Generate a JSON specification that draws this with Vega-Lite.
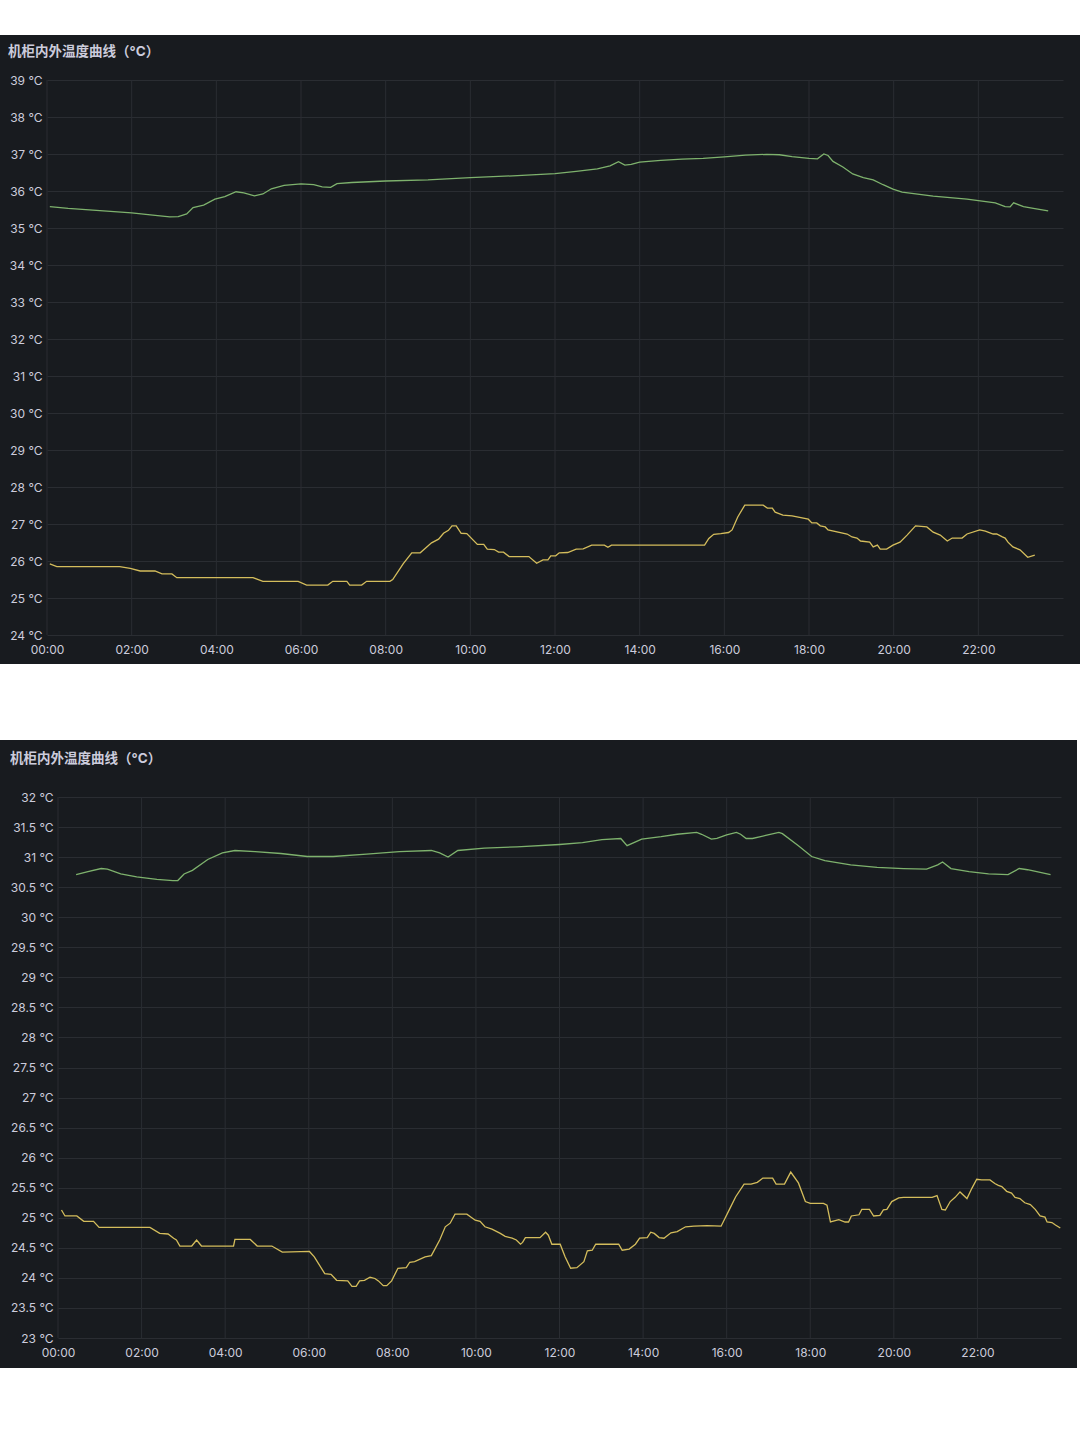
{
  "$schema": "https://vega.github.io/schema/vega-lite/v6.json",
  "background": "#ffffff",
  "padding": {"top": 35, "left": 0, "right": 0, "bottom": 72},
  "spacing": 76,
  "config": {
    "view": {"fill": "#181b1f", "stroke": null},
    "font": "Inter, 'Noto Sans CJK SC', sans-serif",
    "axis": {
      "domain": false, "ticks": false, "tickSize": 0, "grid": true,
      "gridColor": "#2a2d32", "gridWidth": 1, "title": null,
      "labelColor": "#ccccdc", "labelFontSize": 12, "labelFont": "Inter, 'Noto Sans CJK SC', sans-serif",
      "labelOverlap": false, "labelFlush": false
    },
    "axisX": {"grid": false}
  },
  "resolve": {"scale": {"x": "independent", "y": "independent", "color": "independent"}},
  "datasets": {
    "hours": [
      {"t":"2024-01-01T00:00"},{"t":"2024-01-01T02:00"},{"t":"2024-01-01T04:00"},{"t":"2024-01-01T06:00"},{"t":"2024-01-01T08:00"},{"t":"2024-01-01T10:00"},{"t":"2024-01-01T12:00"},{"t":"2024-01-01T14:00"},{"t":"2024-01-01T16:00"},{"t":"2024-01-01T18:00"},{"t":"2024-01-01T20:00"},{"t":"2024-01-01T22:00"}
    ],
    "top": [
      {"t":"2024-01-01T00:04","v":35.58,"s":"机柜内"},{"t":"2024-01-01T00:30","v":35.53,"s":"机柜内"},{"t":"2024-01-01T01:00","v":35.49,"s":"机柜内"},{"t":"2024-01-01T01:30","v":35.45,"s":"机柜内"},{"t":"2024-01-01T02:00","v":35.41,"s":"机柜内"},{"t":"2024-01-01T02:30","v":35.35,"s":"机柜内"},{"t":"2024-01-01T02:54","v":35.3,"s":"机柜内"},{"t":"2024-01-01T03:06","v":35.31,"s":"机柜内"},{"t":"2024-01-01T03:18","v":35.38,"s":"机柜内"},{"t":"2024-01-01T03:27","v":35.55,"s":"机柜内"},{"t":"2024-01-01T03:42","v":35.62,"s":"机柜内"},{"t":"2024-01-01T03:58","v":35.78,"s":"机柜内"},{"t":"2024-01-01T04:12","v":35.85,"s":"机柜内"},{"t":"2024-01-01T04:28","v":35.98,"s":"机柜内"},{"t":"2024-01-01T04:39","v":35.95,"s":"机柜内"},{"t":"2024-01-01T04:54","v":35.87,"s":"机柜内"},{"t":"2024-01-01T05:06","v":35.92,"s":"机柜内"},{"t":"2024-01-01T05:18","v":36.06,"s":"机柜内"},{"t":"2024-01-01T05:36","v":36.15,"s":"机柜内"},{"t":"2024-01-01T06:00","v":36.19,"s":"机柜内"},{"t":"2024-01-01T06:18","v":36.17,"s":"机柜内"},{"t":"2024-01-01T06:30","v":36.11,"s":"机柜内"},{"t":"2024-01-01T06:42","v":36.1,"s":"机柜内"},{"t":"2024-01-01T06:51","v":36.2,"s":"机柜内"},{"t":"2024-01-01T07:12","v":36.23,"s":"机柜内"},{"t":"2024-01-01T08:00","v":36.27,"s":"机柜内"},{"t":"2024-01-01T09:00","v":36.3,"s":"机柜内"},{"t":"2024-01-01T10:00","v":36.36,"s":"机柜内"},{"t":"2024-01-01T11:00","v":36.41,"s":"机柜内"},{"t":"2024-01-01T12:00","v":36.47,"s":"机柜内"},{"t":"2024-01-01T12:30","v":36.53,"s":"机柜内"},{"t":"2024-01-01T13:00","v":36.6,"s":"机柜内"},{"t":"2024-01-01T13:18","v":36.68,"s":"机柜内"},{"t":"2024-01-01T13:30","v":36.79,"s":"机柜内"},{"t":"2024-01-01T13:39","v":36.7,"s":"机柜内"},{"t":"2024-01-01T13:48","v":36.72,"s":"机柜内"},{"t":"2024-01-01T14:00","v":36.78,"s":"机柜内"},{"t":"2024-01-01T14:30","v":36.83,"s":"机柜内"},{"t":"2024-01-01T15:00","v":36.86,"s":"机柜内"},{"t":"2024-01-01T15:30","v":36.88,"s":"机柜内"},{"t":"2024-01-01T16:00","v":36.92,"s":"机柜内"},{"t":"2024-01-01T16:30","v":36.97,"s":"机柜内"},{"t":"2024-01-01T17:00","v":36.99,"s":"机柜内"},{"t":"2024-01-01T17:18","v":36.98,"s":"机柜内"},{"t":"2024-01-01T17:36","v":36.93,"s":"机柜内"},{"t":"2024-01-01T18:00","v":36.88,"s":"机柜内"},{"t":"2024-01-01T18:12","v":36.87,"s":"机柜内"},{"t":"2024-01-01T18:21","v":37.0,"s":"机柜内"},{"t":"2024-01-01T18:27","v":36.96,"s":"机柜内"},{"t":"2024-01-01T18:34","v":36.8,"s":"机柜内"},{"t":"2024-01-01T18:48","v":36.65,"s":"机柜内"},{"t":"2024-01-01T19:02","v":36.46,"s":"机柜内"},{"t":"2024-01-01T19:17","v":36.36,"s":"机柜内"},{"t":"2024-01-01T19:31","v":36.3,"s":"机柜内"},{"t":"2024-01-01T19:45","v":36.17,"s":"机柜内"},{"t":"2024-01-01T19:59","v":36.05,"s":"机柜内"},{"t":"2024-01-01T20:12","v":35.97,"s":"机柜内"},{"t":"2024-01-01T20:56","v":35.86,"s":"机柜内"},{"t":"2024-01-01T21:44","v":35.78,"s":"机柜内"},{"t":"2024-01-01T22:24","v":35.68,"s":"机柜内"},{"t":"2024-01-01T22:38","v":35.58,"s":"机柜内"},{"t":"2024-01-01T22:45","v":35.57,"s":"机柜内"},{"t":"2024-01-01T22:50","v":35.68,"s":"机柜内"},{"t":"2024-01-01T23:04","v":35.58,"s":"机柜内"},{"t":"2024-01-01T23:18","v":35.53,"s":"机柜内"},{"t":"2024-01-01T23:39","v":35.46,"s":"机柜内"},
      {"t":"2024-01-01T00:04","v":25.92,"s":"机柜外"},{"t":"2024-01-01T00:14","v":25.85,"s":"机柜外"},{"t":"2024-01-01T01:43","v":25.85,"s":"机柜外"},{"t":"2024-01-01T01:58","v":25.8,"s":"机柜外"},{"t":"2024-01-01T02:12","v":25.73,"s":"机柜外"},{"t":"2024-01-01T02:33","v":25.73,"s":"机柜外"},{"t":"2024-01-01T02:43","v":25.65,"s":"机柜外"},{"t":"2024-01-01T02:57","v":25.65,"s":"机柜外"},{"t":"2024-01-01T03:04","v":25.55,"s":"机柜外"},{"t":"2024-01-01T04:52","v":25.55,"s":"机柜外"},{"t":"2024-01-01T05:06","v":25.45,"s":"机柜外"},{"t":"2024-01-01T05:56","v":25.45,"s":"机柜外"},{"t":"2024-01-01T06:08","v":25.35,"s":"机柜外"},{"t":"2024-01-01T06:38","v":25.35,"s":"机柜外"},{"t":"2024-01-01T06:45","v":25.45,"s":"机柜外"},{"t":"2024-01-01T07:05","v":25.45,"s":"机柜外"},{"t":"2024-01-01T07:09","v":25.35,"s":"机柜外"},{"t":"2024-01-01T07:26","v":25.35,"s":"机柜外"},{"t":"2024-01-01T07:33","v":25.45,"s":"机柜外"},{"t":"2024-01-01T08:06","v":25.45,"s":"机柜外"},{"t":"2024-01-01T08:10","v":25.5,"s":"机柜外"},{"t":"2024-01-01T08:25","v":25.93,"s":"机柜外"},{"t":"2024-01-01T08:37","v":26.22,"s":"机柜外"},{"t":"2024-01-01T08:49","v":26.22,"s":"机柜外"},{"t":"2024-01-01T09:05","v":26.49,"s":"机柜外"},{"t":"2024-01-01T09:15","v":26.59,"s":"机柜外"},{"t":"2024-01-01T09:22","v":26.75,"s":"机柜外"},{"t":"2024-01-01T09:29","v":26.83,"s":"机柜外"},{"t":"2024-01-01T09:34","v":26.95,"s":"机柜外"},{"t":"2024-01-01T09:40","v":26.95,"s":"机柜外"},{"t":"2024-01-01T09:47","v":26.75,"s":"机柜外"},{"t":"2024-01-01T09:55","v":26.74,"s":"机柜外"},{"t":"2024-01-01T10:10","v":26.45,"s":"机柜外"},{"t":"2024-01-01T10:19","v":26.45,"s":"机柜外"},{"t":"2024-01-01T10:24","v":26.32,"s":"机柜外"},{"t":"2024-01-01T10:34","v":26.31,"s":"机柜外"},{"t":"2024-01-01T10:40","v":26.24,"s":"机柜外"},{"t":"2024-01-01T10:47","v":26.24,"s":"机柜外"},{"t":"2024-01-01T10:55","v":26.12,"s":"机柜外"},{"t":"2024-01-01T11:23","v":26.12,"s":"机柜外"},{"t":"2024-01-01T11:34","v":25.94,"s":"机柜外"},{"t":"2024-01-01T11:43","v":26.03,"s":"机柜外"},{"t":"2024-01-01T11:50","v":26.03,"s":"机柜外"},{"t":"2024-01-01T11:54","v":26.14,"s":"机柜外"},{"t":"2024-01-01T12:01","v":26.14,"s":"机柜外"},{"t":"2024-01-01T12:06","v":26.22,"s":"机柜外"},{"t":"2024-01-01T12:18","v":26.23,"s":"机柜外"},{"t":"2024-01-01T12:30","v":26.32,"s":"机柜外"},{"t":"2024-01-01T12:40","v":26.33,"s":"机柜外"},{"t":"2024-01-01T12:52","v":26.43,"s":"机柜外"},{"t":"2024-01-01T13:10","v":26.43,"s":"机柜外"},{"t":"2024-01-01T13:15","v":26.37,"s":"机柜外"},{"t":"2024-01-01T13:20","v":26.43,"s":"机柜外"},{"t":"2024-01-01T15:32","v":26.43,"s":"机柜外"},{"t":"2024-01-01T15:38","v":26.61,"s":"机柜外"},{"t":"2024-01-01T15:45","v":26.72,"s":"机柜外"},{"t":"2024-01-01T15:55","v":26.74,"s":"机柜外"},{"t":"2024-01-01T16:06","v":26.77,"s":"机柜外"},{"t":"2024-01-01T16:11","v":26.84,"s":"机柜外"},{"t":"2024-01-01T16:19","v":27.19,"s":"机柜外"},{"t":"2024-01-01T16:29","v":27.51,"s":"机柜外"},{"t":"2024-01-01T16:55","v":27.51,"s":"机柜外"},{"t":"2024-01-01T17:01","v":27.43,"s":"机柜外"},{"t":"2024-01-01T17:08","v":27.43,"s":"机柜外"},{"t":"2024-01-01T17:12","v":27.32,"s":"机柜外"},{"t":"2024-01-01T17:23","v":27.24,"s":"机柜外"},{"t":"2024-01-01T17:36","v":27.22,"s":"机柜外"},{"t":"2024-01-01T17:59","v":27.13,"s":"机柜外"},{"t":"2024-01-01T18:04","v":27.03,"s":"机柜外"},{"t":"2024-01-01T18:11","v":27.03,"s":"机柜外"},{"t":"2024-01-01T18:16","v":26.95,"s":"机柜外"},{"t":"2024-01-01T18:23","v":26.92,"s":"机柜外"},{"t":"2024-01-01T18:27","v":26.84,"s":"机柜外"},{"t":"2024-01-01T18:54","v":26.73,"s":"机柜外"},{"t":"2024-01-01T19:01","v":26.65,"s":"机柜外"},{"t":"2024-01-01T19:08","v":26.62,"s":"机柜外"},{"t":"2024-01-01T19:13","v":26.54,"s":"机柜外"},{"t":"2024-01-01T19:26","v":26.51,"s":"机柜外"},{"t":"2024-01-01T19:31","v":26.38,"s":"机柜外"},{"t":"2024-01-01T19:37","v":26.43,"s":"机柜外"},{"t":"2024-01-01T19:41","v":26.32,"s":"机柜外"},{"t":"2024-01-01T19:50","v":26.32,"s":"机柜外"},{"t":"2024-01-01T19:59","v":26.43,"s":"机柜外"},{"t":"2024-01-01T20:09","v":26.51,"s":"机柜外"},{"t":"2024-01-01T20:19","v":26.7,"s":"机柜外"},{"t":"2024-01-01T20:31","v":26.95,"s":"机柜外"},{"t":"2024-01-01T20:47","v":26.92,"s":"机柜外"},{"t":"2024-01-01T20:56","v":26.78,"s":"机柜外"},{"t":"2024-01-01T21:06","v":26.7,"s":"机柜外"},{"t":"2024-01-01T21:16","v":26.54,"s":"机柜外"},{"t":"2024-01-01T21:23","v":26.62,"s":"机柜外"},{"t":"2024-01-01T21:37","v":26.62,"s":"机柜外"},{"t":"2024-01-01T21:44","v":26.73,"s":"机柜外"},{"t":"2024-01-01T22:02","v":26.84,"s":"机柜外"},{"t":"2024-01-01T22:10","v":26.81,"s":"机柜外"},{"t":"2024-01-01T22:21","v":26.73,"s":"机柜外"},{"t":"2024-01-01T22:26","v":26.73,"s":"机柜外"},{"t":"2024-01-01T22:34","v":26.65,"s":"机柜外"},{"t":"2024-01-01T22:38","v":26.62,"s":"机柜外"},{"t":"2024-01-01T22:42","v":26.51,"s":"机柜外"},{"t":"2024-01-01T22:49","v":26.38,"s":"机柜外"},{"t":"2024-01-01T22:59","v":26.3,"s":"机柜外"},{"t":"2024-01-01T23:10","v":26.1,"s":"机柜外"},{"t":"2024-01-01T23:20","v":26.16,"s":"机柜外"}
    ],
    "bottom": [
      {"t":"2024-01-01T00:26","v":30.71,"s":"机柜内"},{"t":"2024-01-01T00:43","v":30.76,"s":"机柜内"},{"t":"2024-01-01T01:02","v":30.81,"s":"机柜内"},{"t":"2024-01-01T01:11","v":30.8,"s":"机柜内"},{"t":"2024-01-01T01:30","v":30.72,"s":"机柜内"},{"t":"2024-01-01T01:53","v":30.67,"s":"机柜内"},{"t":"2024-01-01T02:22","v":30.63,"s":"机柜内"},{"t":"2024-01-01T02:45","v":30.61,"s":"机柜内"},{"t":"2024-01-01T02:52","v":30.61,"s":"机柜内"},{"t":"2024-01-01T03:01","v":30.72,"s":"机柜内"},{"t":"2024-01-01T03:13","v":30.78,"s":"机柜内"},{"t":"2024-01-01T03:35","v":30.96,"s":"机柜内"},{"t":"2024-01-01T03:56","v":31.07,"s":"机柜内"},{"t":"2024-01-01T04:14","v":31.11,"s":"机柜内"},{"t":"2024-01-01T04:43","v":31.09,"s":"机柜内"},{"t":"2024-01-01T05:20","v":31.06,"s":"机柜内"},{"t":"2024-01-01T05:58","v":31.01,"s":"机柜内"},{"t":"2024-01-01T06:35","v":31.01,"s":"机柜内"},{"t":"2024-01-01T07:23","v":31.05,"s":"机柜内"},{"t":"2024-01-01T08:10","v":31.09,"s":"机柜内"},{"t":"2024-01-01T08:56","v":31.11,"s":"机柜内"},{"t":"2024-01-01T09:08","v":31.07,"s":"机柜内"},{"t":"2024-01-01T09:20","v":31.0,"s":"机柜内"},{"t":"2024-01-01T09:34","v":31.11,"s":"机柜内"},{"t":"2024-01-01T10:12","v":31.15,"s":"机柜内"},{"t":"2024-01-01T10:59","v":31.17,"s":"机柜内"},{"t":"2024-01-01T12:00","v":31.21,"s":"机柜内"},{"t":"2024-01-01T12:33","v":31.24,"s":"机柜内"},{"t":"2024-01-01T13:01","v":31.29,"s":"机柜内"},{"t":"2024-01-01T13:28","v":31.31,"s":"机柜内"},{"t":"2024-01-01T13:37","v":31.19,"s":"机柜内"},{"t":"2024-01-01T13:58","v":31.3,"s":"机柜内"},{"t":"2024-01-01T14:26","v":31.34,"s":"机柜内"},{"t":"2024-01-01T14:49","v":31.38,"s":"机柜内"},{"t":"2024-01-01T15:17","v":31.41,"s":"机柜内"},{"t":"2024-01-01T15:24","v":31.38,"s":"机柜内"},{"t":"2024-01-01T15:38","v":31.3,"s":"机柜内"},{"t":"2024-01-01T15:46","v":31.31,"s":"机柜内"},{"t":"2024-01-01T16:00","v":31.37,"s":"机柜内"},{"t":"2024-01-01T16:14","v":31.41,"s":"机柜内"},{"t":"2024-01-01T16:20","v":31.38,"s":"机柜内"},{"t":"2024-01-01T16:28","v":31.31,"s":"机柜内"},{"t":"2024-01-01T16:37","v":31.31,"s":"机柜内"},{"t":"2024-01-01T16:56","v":31.36,"s":"机柜内"},{"t":"2024-01-01T17:15","v":31.41,"s":"机柜内"},{"t":"2024-01-01T17:20","v":31.39,"s":"机柜内"},{"t":"2024-01-01T17:43","v":31.19,"s":"机柜内"},{"t":"2024-01-01T18:02","v":31.01,"s":"机柜内"},{"t":"2024-01-01T18:21","v":30.94,"s":"机柜内"},{"t":"2024-01-01T18:58","v":30.87,"s":"机柜内"},{"t":"2024-01-01T19:36","v":30.83,"s":"机柜内"},{"t":"2024-01-01T20:14","v":30.81,"s":"机柜内"},{"t":"2024-01-01T20:47","v":30.8,"s":"机柜内"},{"t":"2024-01-01T21:03","v":30.87,"s":"机柜内"},{"t":"2024-01-01T21:10","v":30.92,"s":"机柜内"},{"t":"2024-01-01T21:22","v":30.81,"s":"机柜内"},{"t":"2024-01-01T21:48","v":30.76,"s":"机柜内"},{"t":"2024-01-01T22:16","v":30.72,"s":"机柜内"},{"t":"2024-01-01T22:44","v":30.71,"s":"机柜内"},{"t":"2024-01-01T23:00","v":30.81,"s":"机柜内"},{"t":"2024-01-01T23:12","v":30.79,"s":"机柜内"},{"t":"2024-01-01T23:45","v":30.71,"s":"机柜内"},
      {"t":"2024-01-01T00:05","v":25.13,"s":"机柜外"},{"t":"2024-01-01T00:10","v":25.03,"s":"机柜外"},{"t":"2024-01-01T00:27","v":25.03,"s":"机柜外"},{"t":"2024-01-01T00:37","v":24.94,"s":"机柜外"},{"t":"2024-01-01T00:51","v":24.94,"s":"机柜外"},{"t":"2024-01-01T00:59","v":24.84,"s":"机柜外"},{"t":"2024-01-01T02:12","v":24.84,"s":"机柜外"},{"t":"2024-01-01T02:26","v":24.74,"s":"机柜外"},{"t":"2024-01-01T02:38","v":24.73,"s":"机柜外"},{"t":"2024-01-01T02:46","v":24.66,"s":"机柜外"},{"t":"2024-01-01T02:50","v":24.63,"s":"机柜外"},{"t":"2024-01-01T02:55","v":24.53,"s":"机柜外"},{"t":"2024-01-01T03:12","v":24.53,"s":"机柜外"},{"t":"2024-01-01T03:19","v":24.63,"s":"机柜外"},{"t":"2024-01-01T03:26","v":24.53,"s":"机柜外"},{"t":"2024-01-01T04:12","v":24.53,"s":"机柜外"},{"t":"2024-01-01T04:14","v":24.64,"s":"机柜外"},{"t":"2024-01-01T04:36","v":24.64,"s":"机柜外"},{"t":"2024-01-01T04:46","v":24.53,"s":"机柜外"},{"t":"2024-01-01T05:07","v":24.53,"s":"机柜外"},{"t":"2024-01-01T05:22","v":24.43,"s":"机柜外"},{"t":"2024-01-01T06:01","v":24.44,"s":"机柜外"},{"t":"2024-01-01T06:08","v":24.35,"s":"机柜外"},{"t":"2024-01-01T06:23","v":24.07,"s":"机柜外"},{"t":"2024-01-01T06:32","v":24.06,"s":"机柜外"},{"t":"2024-01-01T06:40","v":23.96,"s":"机柜外"},{"t":"2024-01-01T06:56","v":23.95,"s":"机柜外"},{"t":"2024-01-01T07:02","v":23.86,"s":"机柜外"},{"t":"2024-01-01T07:08","v":23.86,"s":"机柜外"},{"t":"2024-01-01T07:13","v":23.95,"s":"机柜外"},{"t":"2024-01-01T07:20","v":23.96,"s":"机柜外"},{"t":"2024-01-01T07:28","v":24.01,"s":"机柜外"},{"t":"2024-01-01T07:35","v":23.99,"s":"机柜外"},{"t":"2024-01-01T07:40","v":23.95,"s":"机柜外"},{"t":"2024-01-01T07:47","v":23.87,"s":"机柜外"},{"t":"2024-01-01T07:52","v":23.87,"s":"机柜外"},{"t":"2024-01-01T07:59","v":23.95,"s":"机柜外"},{"t":"2024-01-01T08:08","v":24.16,"s":"机柜外"},{"t":"2024-01-01T08:20","v":24.17,"s":"机柜外"},{"t":"2024-01-01T08:25","v":24.26,"s":"机柜外"},{"t":"2024-01-01T08:32","v":24.27,"s":"机柜外"},{"t":"2024-01-01T08:47","v":24.35,"s":"机柜外"},{"t":"2024-01-01T08:56","v":24.37,"s":"机柜外"},{"t":"2024-01-01T09:08","v":24.63,"s":"机柜外"},{"t":"2024-01-01T09:16","v":24.85,"s":"机柜外"},{"t":"2024-01-01T09:23","v":24.91,"s":"机柜外"},{"t":"2024-01-01T09:30","v":25.06,"s":"机柜外"},{"t":"2024-01-01T09:47","v":25.06,"s":"机柜外"},{"t":"2024-01-01T09:59","v":24.96,"s":"机柜外"},{"t":"2024-01-01T10:06","v":24.94,"s":"机柜外"},{"t":"2024-01-01T10:13","v":24.85,"s":"机柜外"},{"t":"2024-01-01T10:23","v":24.81,"s":"机柜外"},{"t":"2024-01-01T10:35","v":24.74,"s":"机柜外"},{"t":"2024-01-01T10:42","v":24.69,"s":"机柜外"},{"t":"2024-01-01T10:52","v":24.66,"s":"机柜外"},{"t":"2024-01-01T10:58","v":24.63,"s":"机柜外"},{"t":"2024-01-01T11:04","v":24.56,"s":"机柜外"},{"t":"2024-01-01T11:07","v":24.59,"s":"机柜外"},{"t":"2024-01-01T11:11","v":24.67,"s":"机柜外"},{"t":"2024-01-01T11:32","v":24.67,"s":"机柜外"},{"t":"2024-01-01T11:40","v":24.76,"s":"机柜外"},{"t":"2024-01-01T11:44","v":24.71,"s":"机柜外"},{"t":"2024-01-01T11:49","v":24.56,"s":"机柜外"},{"t":"2024-01-01T12:01","v":24.56,"s":"机柜外"},{"t":"2024-01-01T12:08","v":24.35,"s":"机柜外"},{"t":"2024-01-01T12:16","v":24.16,"s":"机柜外"},{"t":"2024-01-01T12:25","v":24.17,"s":"机柜外"},{"t":"2024-01-01T12:35","v":24.27,"s":"机柜外"},{"t":"2024-01-01T12:40","v":24.45,"s":"机柜外"},{"t":"2024-01-01T12:47","v":24.46,"s":"机柜外"},{"t":"2024-01-01T12:52","v":24.56,"s":"机柜外"},{"t":"2024-01-01T13:25","v":24.56,"s":"机柜外"},{"t":"2024-01-01T13:30","v":24.46,"s":"机柜外"},{"t":"2024-01-01T13:40","v":24.48,"s":"机柜外"},{"t":"2024-01-01T13:49","v":24.56,"s":"机柜外"},{"t":"2024-01-01T13:55","v":24.66,"s":"机柜外"},{"t":"2024-01-01T14:06","v":24.67,"s":"机柜外"},{"t":"2024-01-01T14:11","v":24.76,"s":"机柜外"},{"t":"2024-01-01T14:16","v":24.74,"s":"机柜外"},{"t":"2024-01-01T14:23","v":24.67,"s":"机柜外"},{"t":"2024-01-01T14:30","v":24.66,"s":"机柜外"},{"t":"2024-01-01T14:40","v":24.75,"s":"机柜外"},{"t":"2024-01-01T14:49","v":24.77,"s":"机柜外"},{"t":"2024-01-01T15:01","v":24.85,"s":"机柜外"},{"t":"2024-01-01T15:13","v":24.86,"s":"机柜外"},{"t":"2024-01-01T15:32","v":24.87,"s":"机柜外"},{"t":"2024-01-01T15:52","v":24.86,"s":"机柜外"},{"t":"2024-01-01T16:04","v":25.14,"s":"机柜外"},{"t":"2024-01-01T16:13","v":25.35,"s":"机柜外"},{"t":"2024-01-01T16:25","v":25.56,"s":"机柜外"},{"t":"2024-01-01T16:35","v":25.56,"s":"机柜外"},{"t":"2024-01-01T16:44","v":25.59,"s":"机柜外"},{"t":"2024-01-01T16:52","v":25.66,"s":"机柜外"},{"t":"2024-01-01T17:06","v":25.66,"s":"机柜外"},{"t":"2024-01-01T17:11","v":25.56,"s":"机柜外"},{"t":"2024-01-01T17:23","v":25.56,"s":"机柜外"},{"t":"2024-01-01T17:32","v":25.76,"s":"机柜外"},{"t":"2024-01-01T17:43","v":25.58,"s":"机柜外"},{"t":"2024-01-01T17:53","v":25.27,"s":"机柜外"},{"t":"2024-01-01T18:00","v":25.24,"s":"机柜外"},{"t":"2024-01-01T18:19","v":25.24,"s":"机柜外"},{"t":"2024-01-01T18:24","v":25.21,"s":"机柜外"},{"t":"2024-01-01T18:29","v":24.93,"s":"机柜外"},{"t":"2024-01-01T18:41","v":24.97,"s":"机柜外"},{"t":"2024-01-01T18:50","v":24.93,"s":"机柜外"},{"t":"2024-01-01T18:55","v":24.93,"s":"机柜外"},{"t":"2024-01-01T18:59","v":25.03,"s":"机柜外"},{"t":"2024-01-01T19:10","v":25.05,"s":"机柜外"},{"t":"2024-01-01T19:14","v":25.14,"s":"机柜外"},{"t":"2024-01-01T19:25","v":25.14,"s":"机柜外"},{"t":"2024-01-01T19:31","v":25.03,"s":"机柜外"},{"t":"2024-01-01T19:40","v":25.04,"s":"机柜外"},{"t":"2024-01-01T19:45","v":25.13,"s":"机柜外"},{"t":"2024-01-01T19:50","v":25.14,"s":"机柜外"},{"t":"2024-01-01T19:57","v":25.27,"s":"机柜外"},{"t":"2024-01-01T20:07","v":25.33,"s":"机柜外"},{"t":"2024-01-01T20:14","v":25.34,"s":"机柜外"},{"t":"2024-01-01T20:55","v":25.34,"s":"机柜外"},{"t":"2024-01-01T21:02","v":25.37,"s":"机柜外"},{"t":"2024-01-01T21:09","v":25.14,"s":"机柜外"},{"t":"2024-01-01T21:14","v":25.13,"s":"机柜外"},{"t":"2024-01-01T21:21","v":25.27,"s":"机柜外"},{"t":"2024-01-01T21:28","v":25.34,"s":"机柜外"},{"t":"2024-01-01T21:35","v":25.43,"s":"机柜外"},{"t":"2024-01-01T21:45","v":25.32,"s":"机柜外"},{"t":"2024-01-01T21:52","v":25.49,"s":"机柜外"},{"t":"2024-01-01T21:59","v":25.64,"s":"机柜外"},{"t":"2024-01-01T22:06","v":25.63,"s":"机柜外"},{"t":"2024-01-01T22:18","v":25.63,"s":"机柜外"},{"t":"2024-01-01T22:25","v":25.57,"s":"机柜外"},{"t":"2024-01-01T22:30","v":25.54,"s":"机柜外"},{"t":"2024-01-01T22:35","v":25.52,"s":"机柜外"},{"t":"2024-01-01T22:42","v":25.44,"s":"机柜外"},{"t":"2024-01-01T22:49","v":25.41,"s":"机柜外"},{"t":"2024-01-01T22:54","v":25.34,"s":"机柜外"},{"t":"2024-01-01T23:01","v":25.32,"s":"机柜外"},{"t":"2024-01-01T23:08","v":25.25,"s":"机柜外"},{"t":"2024-01-01T23:16","v":25.22,"s":"机柜外"},{"t":"2024-01-01T23:23","v":25.14,"s":"机柜外"},{"t":"2024-01-01T23:30","v":25.03,"s":"机柜外"},{"t":"2024-01-01T23:37","v":25.01,"s":"机柜外"},{"t":"2024-01-01T23:40","v":24.93,"s":"机柜外"},{"t":"2024-01-01T23:47","v":24.92,"s":"机柜外"},{"t":"2024-01-01T23:52","v":24.88,"s":"机柜外"},{"t":"2024-01-01T23:59","v":24.83,"s":"机柜外"}
    ]
  },
  "vconcat": [
    {
      "width": 1080,
      "height": 629,
      "title": {"text": "机柜内外温度曲线（°C）", "anchor": "start", "frame": "group", "offset": -23, "dx": 8, "fontSize": 13.5, "fontWeight": "bold", "color": "#ccccdc", "font": "Inter, 'Noto Sans CJK SC', sans-serif"},
      "layer": [
        {
          "data": {"name": "hours"},
          "mark": {"type": "rule", "color": "#2a2d32", "strokeWidth": 1},
          "encoding": {
            "x": {"field": "t", "type": "temporal"},
            "y": {"datum": 24, "axis": {"values": [24,25,26,27,28,29,30,31,32,33,34,35,36,37,38,39], "labelExpr": "datum.value + ' °C'", "labelPadding": -42}},
            "y2": {"datum": 39}
          }
        },
        {
          "data": {"name": "top"},
          "mark": {"type": "line", "strokeWidth": 1.3, "interpolate": "linear"},
          "encoding": {
            "x": {
              "field": "t", "type": "temporal",
              "scale": {"domain": [{"year": 2024, "month": 1, "date": 1, "hours": 0}, {"year": 2024, "month": 1, "date": 2, "hours": 0}], "range": [47, 1063]},
              "axis": {
                "values": [{"year":2024,"month":1,"date":1,"hours":0},{"year":2024,"month":1,"date":1,"hours":2},{"year":2024,"month":1,"date":1,"hours":4},{"year":2024,"month":1,"date":1,"hours":6},{"year":2024,"month":1,"date":1,"hours":8},{"year":2024,"month":1,"date":1,"hours":10},{"year":2024,"month":1,"date":1,"hours":12},{"year":2024,"month":1,"date":1,"hours":14},{"year":2024,"month":1,"date":1,"hours":16},{"year":2024,"month":1,"date":1,"hours":18},{"year":2024,"month":1,"date":1,"hours":20},{"year":2024,"month":1,"date":1,"hours":22}],
                "format": "%H:%M", "labelPadding": -20, "grid": false
              }
            },
            "y": {
              "field": "v", "type": "quantitative",
              "scale": {"domain": [24, 39], "range": [600, 45], "nice": false, "zero": false},
              "axis": {"values": [24,25,26,27,28,29,30,31,32,33,34,35,36,37,38,39], "labelExpr": "datum.value + ' °C'", "labelPadding": -42}
            },
            "color": {"field": "s", "type": "nominal", "scale": {"domain": ["机柜内", "机柜外"], "range": ["#7eb26d", "#d4bd5c"]}, "legend": null}
          }
        }
      ]
    },
    {
      "width": 1077,
      "height": 628,
      "title": {"text": "机柜内外温度曲线（°C）", "anchor": "start", "frame": "group", "offset": -25, "dx": 10, "fontSize": 13.5, "fontWeight": "bold", "color": "#ccccdc", "font": "Inter, 'Noto Sans CJK SC', sans-serif"},
      "layer": [
        {
          "data": {"name": "hours"},
          "mark": {"type": "rule", "color": "#2a2d32", "strokeWidth": 1},
          "encoding": {
            "x": {"field": "t", "type": "temporal"},
            "y": {"datum": 23, "axis": {"values": [23,23.5,24,24.5,25,25.5,26,26.5,27,27.5,28,28.5,29,29.5,30,30.5,31,31.5,32], "labelExpr": "datum.value + ' °C'", "labelPadding": -53}},
            "y2": {"datum": 32}
          }
        },
        {
          "data": {"name": "bottom"},
          "mark": {"type": "line", "strokeWidth": 1.3, "interpolate": "linear"},
          "encoding": {
            "x": {
              "field": "t", "type": "temporal",
              "scale": {"domain": [{"year": 2024, "month": 1, "date": 1, "hours": 0}, {"year": 2024, "month": 1, "date": 2, "hours": 0}], "range": [58, 1061]},
              "axis": {
                "values": [{"year":2024,"month":1,"date":1,"hours":0},{"year":2024,"month":1,"date":1,"hours":2},{"year":2024,"month":1,"date":1,"hours":4},{"year":2024,"month":1,"date":1,"hours":6},{"year":2024,"month":1,"date":1,"hours":8},{"year":2024,"month":1,"date":1,"hours":10},{"year":2024,"month":1,"date":1,"hours":12},{"year":2024,"month":1,"date":1,"hours":14},{"year":2024,"month":1,"date":1,"hours":16},{"year":2024,"month":1,"date":1,"hours":18},{"year":2024,"month":1,"date":1,"hours":20},{"year":2024,"month":1,"date":1,"hours":22}],
                "format": "%H:%M", "labelPadding": -21, "grid": false
              }
            },
            "y": {
              "field": "v", "type": "quantitative",
              "scale": {"domain": [23, 32], "range": [598, 57], "nice": false, "zero": false},
              "axis": {"values": [23,23.5,24,24.5,25,25.5,26,26.5,27,27.5,28,28.5,29,29.5,30,30.5,31,31.5,32], "labelExpr": "datum.value + ' °C'", "labelPadding": -53}
            },
            "color": {"field": "s", "type": "nominal", "scale": {"domain": ["机柜内", "机柜外"], "range": ["#7eb26d", "#d4bd5c"]}, "legend": null}
          }
        }
      ]
    }
  ]
}
